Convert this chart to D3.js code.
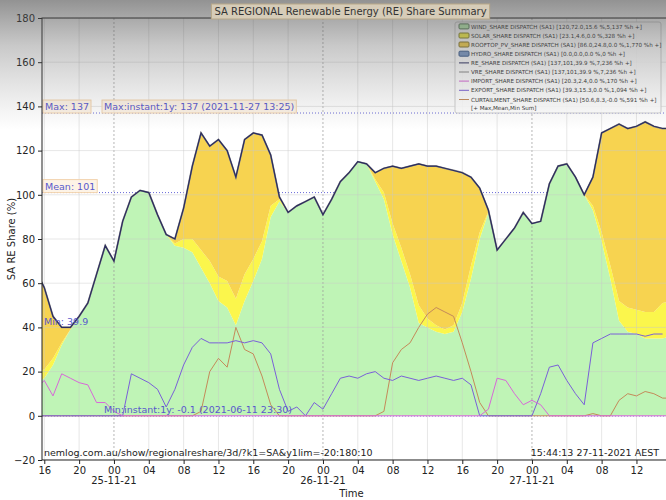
<!DOCTYPE html>
<html>
<head>
<meta charset="utf-8">
<script src="https://cdn.jsdelivr.net/npm/d3@7"></script>
<style>
  body { margin: 0; background: #fff; }
  svg { display: block; font-family: "DejaVu Sans", sans-serif; }
</style>
</head>
<body>
<svg id="chart" width="666" height="500"></svg>
<script>
// hourly samples, 24-11-21 15:00 .. 27-11-21 16:00 (74 points)
const startTime = new Date(2021, 10, 24, 15, 0, 0);

const windShare = [15, 17, 23, 32, 39, 45, 51, 64, 77, 70, 88, 99, 102, 101, 91, 82,
  77, 76, 74, 67, 60, 52, 49, 41, 52, 61, 71, 90, 97,
  92, 95, 97, 99, 91, 98, 106, 110, 115, 114,
  106, 98, 82, 70, 58, 42, 40, 38, 37, 38, 47, 62, 80, 92,
  75, 80, 85, 92, 87, 88, 105, 113, 114, 108, 100,
  93, 79, 62, 43, 38, 37, 35, 35, 35, 36];

const solarShare = [5, 4, 3, 1, 0,
  0, 0, 0, 0, 0, 0, 0, 0, 0, 0, 0,
  1, 4, 6, 8, 10, 11, 12, 12, 12, 10, 8, 5, 1,
  0, 0, 0, 0, 0, 0, 0, 0, 0, 0,
  1, 3, 5, 6, 6, 8, 4, 3, 2, 3, 4, 6, 3, 0.5,
  0, 0, 0, 0, 0, 0, 0, 0, 0, 0, 0,
  2, 4, 6, 9, 11, 11, 12, 12, 16, 16];

const rooftopShare = [46, 37, 19, 7, 1,
  0, 0, 0, 0, 0, 0, 0, 0, 0, 0, 0,
  2, 14, 33, 53, 52, 62, 59, 55, 61, 57, 48, 23, 1,
  0, 0, 0, 0, 0, 0, 0, 0, 0, 0,
  3, 11, 26, 36, 49, 64, 69, 72, 73, 70, 59, 40, 20, 0.5,
  0, 0, 0, 0, 0, 0, 0, 0, 0, 0, 0,
  13, 45, 62, 80, 81, 83, 86, 84, 79, 78];

const hydroShare = [0, 0, 0, 0, 0, 0, 0, 0, 0, 0, 0, 0, 0, 0, 0, 0, 0, 0, 0, 0,
  0, 0, 0, 0, 0, 0, 0, 0, 0, 0, 0, 0, 0, 0, 0, 0, 0, 0, 0, 0,
  0, 0, 0, 0, 0, 0, 0, 0, 0, 0, 0, 0, 0, 0, 0, 0, 0, 0, 0, 0,
  0, 0, 0, 0, 0, 0, 0, 0, 0, 0, 0, 0, 0, 0];

const importShare = [12, 16, 9, 19, 17, 15, 14, 6, 6, 2, 0,
  0, 0, 0, 0, 0, 0, 0, 0, 0, 0, 0, 0, 0, 0, 0, 0, 0, 0, 0, 0,
  0, 0, 0, 0, 0, 0, 0, 0, 0, 0, 0, 0, 0, 0, 0, 0, 0, 0, 0, 0, 0,
  3, 17, 16, 10, 5, 7, 5, 0,
  0, 0, 0, 0, 0, 0, 0, 0, 0, 0, 0, 0, 0, 0];

const exportShare = [0, 0, 0, 0, 0, 0, 0, 0, 0, 0, 0,
  19, 17, 15, 12, 4, 12, 23, 31, 35, 33, 33, 33, 34, 33, 34, 33, 28, 12, 2, 4, 0, 6, 3,
  10, 17, 18, 17, 19, 20, 17, 16, 18, 17, 16, 17, 18, 17, 16, 17, 14, 0,
  0, 0, 0, 0, 0, 0,
  10, 22, 23, 16, 10, 5, 33, 35, 37, 37, 37, 37, 36, 37, 37];

const curtailShare = [0, 0, 0, 0, 0, 0, 0, 0, 0, 0, 0, 0, 0, 0, 0, 0, 0, 0, 0,
  2, 20, 26, 22, 40, 30, 28, 18, 5,
  0, 0, 0, 0, 0, 0, 0, 0, 0, 0, 0, 0,
  2, 24, 30, 33, 40, 46, 49, 47, 45, 33, 20, 6,
  0, 0, 0, 0, 0, 0, 0, 0, 0, 0, 0, 0,
  1, 0, 0, 7, 10, 9, 11, 10, 8, 8];

const yTicks = [-20, 0, 20, 40, 60, 80, 100, 120, 140, 160, 180];

const statMax = 137, statMean = 101, statMin = 39.9, statMinInstant = -0.1;

const legendLabels = [
  "WIND_SHARE DISPATCH (SA1) [120,72.0,15.6 %,5,137 %h +]",
  "SOLAR_SHARE DISPATCH (SA1) [23.1,4.6,0.0 %,328 %h +]",
  "ROOFTOP_PV_SHARE DISPATCH (SA1) [86.0,24.8,0.0 %,1,770 %h +]",
  "HYDRO_SHARE DISPATCH (SA1) [0.0,0.0,0.0 %,0 %h +]",
  "RE_SHARE DISPATCH (SA1) [137,101,39.9 %,7,236 %h +]",
  "VRE_SHARE DISPATCH (SA1) [137,101,39.9 %,7,236 %h +]",
  "IMPORT_SHARE DISPATCH (SA1) [20.3,2.4,0.0 %,170 %h +]",
  "EXPORT_SHARE DISPATCH (SA1) [39.3,15.3,0.0 %,1,094 %h +]",
  "CURTAILMENT_SHARE DISPATCH (SA1) [50.6,8.3,-0.0 %,591 %h +]"
];

const areaColors = ["#bff4b6", "#fbf64c", "#f7d350", "#7f9cc8"];
const areaEdges = ["#5f7f5f", "#8a8a30", "#8a7a30", "#3f5f8f"];
const lineColors = ["#2a2c5e", "#8a8a8a", "#d868d8", "#7a60d8", "#c48a5a"];

// ---------------------------------------------------------------
const svg = d3.select("#chart");
const W = 666, H = 500;
const pL = 42, pR = 669, pT = 18, pB = 460;

const rows = windShare.map(function(w, i) {
  return {
    time: d3.timeHour.offset(startTime, i),
    wind: w, solar: solarShare[i], rooftop: rooftopShare[i], hydro: hydroShare[i],
    imp: importShare[i], exp: exportShare[i], curt: curtailShare[i]
  };
});

const x = d3.scaleTime()
  .domain([new Date(2021, 10, 24, 15, 44, 13), new Date(2021, 10, 27, 15, 44, 13)])
  .range([pL, pR]);
const y = d3.scaleLinear().domain([-20, 180]).range([pB, pT]);

svg.append("rect").attr("width", W).attr("height", H).attr("fill", "#fff");

const defs = svg.append("defs");
defs.append("clipPath").attr("id", "plotclip")
  .append("rect").attr("x", pL).attr("y", pT)
  .attr("width", pR - pL).attr("height", pB - pT);

const plot = svg.append("g").attr("clip-path", "url(#plotclip)");

// stat lines sit under the areas
const statLines = [statMax, statMean, statMin, statMinInstant];
plot.selectAll("line.stat").data(statLines).enter().append("line")
  .attr("class", "stat")
  .attr("x1", pL).attr("x2", pR)
  .attr("y1", function(d) { return y(d); }).attr("y2", function(d) { return y(d); })
  .attr("stroke", "#6a6ad8").attr("stroke-width", 1).attr("stroke-dasharray", "1,2");

const stack = d3.stack().keys(["wind", "solar", "rooftop", "hydro"]);
const series = stack(rows);

const area = d3.area()
  .x(function(d) { return x(d.data.time); })
  .y0(function(d) { return y(d[0]); })
  .y1(function(d) { return y(d[1]); });

plot.selectAll("path.area").data(series).enter().append("path")
  .attr("class", "area")
  .attr("d", area)
  .attr("fill", function(d, i) { return areaColors[i]; });

// grid on top of areas
const hourTicks = x.ticks(d3.timeHour.every(4));
plot.selectAll("line.vgrid").data(hourTicks).enter().append("line")
  .attr("x1", function(d) { return x(d); }).attr("x2", function(d) { return x(d); })
  .attr("y1", pT).attr("y2", pB)
  .attr("stroke", function(d) { return d.getHours() === 0 ? "#9a9a9a" : "#c8c8c8"; })
  .attr("stroke-opacity", function(d) { return d.getHours() === 0 ? 0.9 : 0.55; })
  .attr("stroke-dasharray", function(d) { return d.getHours() === 0 ? "2,2" : null; })
  .attr("stroke-width", 0.8);

plot.selectAll("line.hgrid").data(yTicks).enter().append("line")
  .attr("x1", pL).attr("x2", pR)
  .attr("y1", function(d) { return y(d); }).attr("y2", function(d) { return y(d); })
  .attr("stroke", "#c8c8c8").attr("stroke-opacity", 0.55).attr("stroke-width", 0.8);

// stat text under the lines
const statText = svg.append("g").attr("font-size", 9.5).attr("fill", "#5858cc");
statText.append("text").attr("x", 44).attr("y", y(statMin) - 3).text("Min: 39.9");
statText.append("text").attr("x", 104).attr("y", y(statMinInstant) - 3)
  .text("Min:instant:1y: -0.1 (2021-06-11 23:30)");

// lines
const lineOf = function(key) {
  return d3.line()
    .x(function(d) { return x(d.time); })
    .y(function(d) { return y(d[key]); });
};
rows.forEach(function(r) { r.re = r.wind + r.solar + r.rooftop + r.hydro; });

plot.append("path").datum(rows).attr("d", lineOf("curt"))
  .attr("fill", "none").attr("stroke", lineColors[4]).attr("stroke-width", 1);
plot.append("path").datum(rows).attr("d", lineOf("exp"))
  .attr("fill", "none").attr("stroke", lineColors[3]).attr("stroke-width", 1);
plot.append("path").datum(rows).attr("d", lineOf("imp"))
  .attr("fill", "none").attr("stroke", lineColors[2]).attr("stroke-width", 1);
plot.append("path").datum(rows).attr("d", lineOf("re"))
  .attr("fill", "none").attr("stroke", lineColors[1]).attr("stroke-width", 1.8);
plot.append("path").datum(rows).attr("d", lineOf("re"))
  .attr("fill", "none").attr("stroke", lineColors[0]).attr("stroke-width", 1.2);

// boxed stat labels
const boxLabel = function(tx, ty, str) {
  const g = svg.append("g");
  const t = g.append("text").attr("x", tx).attr("y", ty)
    .attr("font-size", 9.5).attr("fill", "#5858cc").text(str);
  const b = t.node().getBBox();
  g.insert("rect", "text")
    .attr("x", b.x - 2).attr("y", b.y - 1)
    .attr("width", b.width + 4).attr("height", b.height + 2)
    .attr("fill", "#fdf1e2").attr("fill-opacity", 0.85)
    .attr("stroke", "#f2d3ad").attr("stroke-width", 1);
};
boxLabel(45, y(statMax) - 3, "Max: 137");
boxLabel(104, y(statMax) - 3, "Max:instant:1y: 137 (2021-11-27 13:25)");
boxLabel(45, y(statMean) - 3, "Mean: 101");

// frame + axes
svg.append("rect").attr("x", pL).attr("y", pT)
  .attr("width", pR - pL).attr("height", pB - pT)
  .attr("fill", "none").attr("stroke", "#222").attr("stroke-width", 1);

const yAxis = svg.append("g").attr("transform", "translate(" + pL + ",0)")
  .call(d3.axisLeft(y).tickValues(yTicks).tickSize(4).tickPadding(3));
const xAxis = svg.append("g").attr("transform", "translate(0," + pB + ")")
  .call(d3.axisBottom(x).ticks(d3.timeHour.every(4)).tickFormat(d3.timeFormat("%H"))
    .tickSize(4).tickPadding(3));
[yAxis, xAxis].forEach(function(a) {
  a.select(".domain").remove();
  a.selectAll("text").attr("font-size", 10).attr("fill", "#222")
    .attr("font-family", "DejaVu Sans, sans-serif");
  a.selectAll("line").attr("stroke", "#222");
});

const midnights = x.ticks(d3.timeDay.every(1)).filter(function(d) { return d.getHours() === 0; });
svg.selectAll("text.day").data(midnights).enter().append("text")
  .attr("x", function(d) { return x(d); }).attr("y", 484)
  .attr("text-anchor", "middle").attr("font-size", 10).attr("fill", "#222")
  .text(d3.timeFormat("%d-%m-%y"));

svg.append("text").attr("x", (pL + pR) / 2 - 4).attr("y", 497)
  .attr("text-anchor", "middle").attr("font-size", 10).attr("fill", "#222").text("Time");
svg.append("text").attr("transform", "translate(15," + ((pT + pB) / 2) + ") rotate(-90)")
  .attr("text-anchor", "middle").attr("font-size", 10).attr("fill", "#222").text("SA RE Share (%)");

svg.append("text").attr("x", 44).attr("y", 456).attr("font-size", 9.5).attr("fill", "#222")
  .text("nemlog.com.au/show/regionalreshare/3d/?k1=SA&y1lim=-20:180:10");
svg.append("text").attr("x", 659).attr("y", 456).attr("text-anchor", "end")
  .attr("font-size", 9.5).attr("fill", "#222").text("15:44:13 27-11-2021 AEST");

// legend
const leg = svg.append("g").attr("font-size", 5.6).attr("fill", "#333");
leg.append("rect").attr("x", 455).attr("y", 22).attr("width", 206).attr("height", 91)
  .attr("rx", 2).attr("fill", "#fff").attr("fill-opacity", 0.85)
  .attr("stroke", "#cfcfcf");
const rowY = [26.5, 35.6, 44.6, 53.8, 62.9, 72, 81.1, 90.3, 99.5];
legendLabels.forEach(function(label, i) {
  const ry = rowY[i];
  if (i < 4) {
    leg.append("rect").attr("x", 459).attr("y", ry - 2.6).attr("width", 10).attr("height", 5)
      .attr("rx", 1).attr("fill", areaColors[i]).attr("stroke", areaEdges[i]).attr("stroke-width", 1);
  } else {
    leg.append("line").attr("x1", 459).attr("x2", 469).attr("y1", ry).attr("y2", ry)
      .attr("stroke", lineColors[i - 4]).attr("stroke-width", 1);
  }
  leg.append("text").attr("x", 471).attr("y", ry + 2).text(label);
});
leg.append("text").attr("x", 471).attr("y", 109.5).text("[+ Max,Mean,Min Sum]");

// photo vignette at the top
const grad = defs.append("linearGradient").attr("id", "topshade")
  .attr("x1", 0).attr("y1", 0).attr("x2", 0).attr("y2", 1);
grad.append("stop").attr("offset", 0).attr("stop-color", "#4a4a4a").attr("stop-opacity", 0.6);
grad.append("stop").attr("offset", 0.35).attr("stop-color", "#5a5a5a").attr("stop-opacity", 0.33);
grad.append("stop").attr("offset", 1).attr("stop-color", "#777").attr("stop-opacity", 0);
svg.append("rect").attr("width", W).attr("height", 130).attr("fill", "url(#topshade)")
  .attr("pointer-events", "none");

// title
const title = svg.append("g");
const tt = title.append("text").attr("x", (pL + pR) / 2 - 5).attr("y", 15)
  .attr("text-anchor", "middle").attr("font-size", 10).attr("fill", "#333")
  .text("SA REGIONAL Renewable Energy (RE) Share Summary");
const tb = tt.node().getBBox();
title.insert("rect", "text").attr("x", tb.x - 3).attr("y", tb.y - 2)
  .attr("width", tb.width + 6).attr("height", tb.height + 4)
  .attr("fill", "#d6ccb8").attr("stroke", "#b8a888").attr("stroke-width", 1);
</script>
</body>
</html>
